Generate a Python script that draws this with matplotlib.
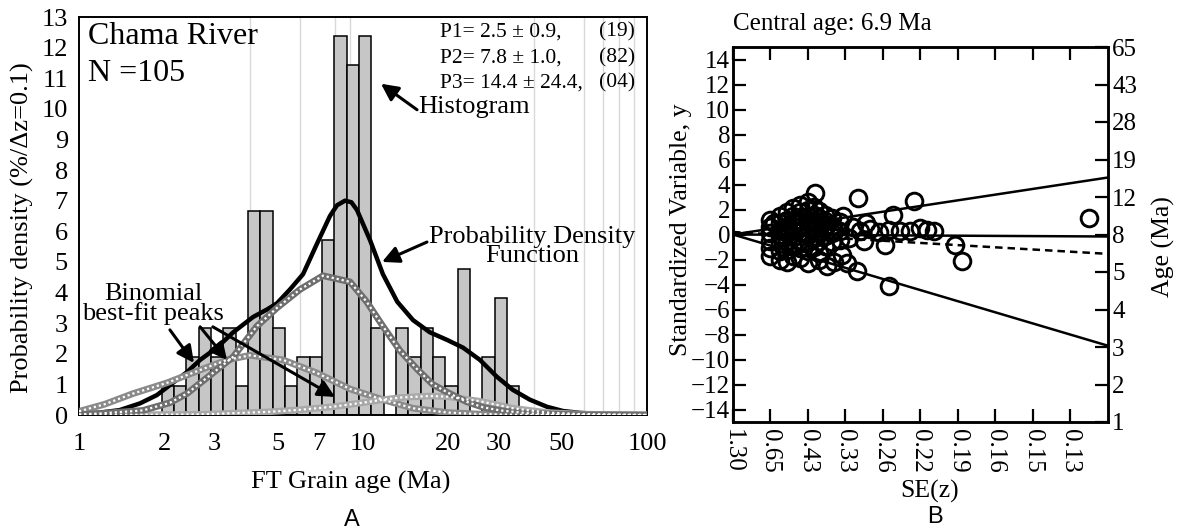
import numpy as np
import matplotlib.pyplot as plt
from matplotlib.ticker import FixedLocator, LogLocator, NullFormatter

plt.rcParams['font.family'] = ['Liberation Serif', 'DejaVu Serif']

# ---------------- panel A: grain-age histogram ----------------
n_grains = 105
first_edge = 0.67      # ln(age) of first bin edge
bin_width = 0.1        # bin width in ln(age)
counts = [1, 1, 2, 3, 2, 3, 1, 7, 7, 3, 1, 2, 2, 6, 13, 12, 13, 3, 0, 3,
          2, 3, 2, 1, 5, 0, 2, 4, 1]

# probability density function
pdf_age = [1.0, 1.19, 1.39, 1.64, 1.88, 2.14, 2.40, 2.67, 3.06, 3.49, 4.10,
           4.6, 4.98, 5.53, 6.15, 6.89, 7.65, 8.1, 8.64, 9.1, 9.52, 10.6, 11.75,
           13.2, 15.0, 17.2, 19.8, 22.5, 25.8, 29.6, 33.7, 38.7, 44.4, 50.6,
           58.1, 68.3, 80.3, 100]
pdf_dens = [0.03, 0.08, 0.16, 0.38, 0.65, 1.05, 1.4, 1.8, 2.2, 2.7, 3.2,
            3.45, 3.65, 4.1, 4.6, 5.6, 6.5, 6.85, 7.0, 6.95, 6.7, 5.7, 4.6,
            3.7, 3.1, 2.7, 2.45, 2.2, 1.8, 1.25, 0.82, 0.5, 0.27, 0.13,
            0.07, 0.03, 0.01, 0.0]

# binomial best-fit peaks
p1_age = [1.0, 1.23, 1.55, 2.04, 2.67, 3.32, 4.0, 5.23, 6.89, 9.0, 11.75,
          15.0, 19.8, 25.8, 38.7, 100]
p1_dens = [0.12, 0.35, 0.7, 1.05, 1.47, 1.8, 1.95, 1.8, 1.37, 0.85, 0.5,
           0.22, 0.08, 0.03, 0.0, 0.0]
p2_age = [1.0, 1.19, 1.68, 2.09, 2.40, 2.96, 3.49, 4.23, 4.98, 6.0, 7.23,
          9.0, 10.3, 11.75, 13.5, 15.5, 17.6, 20.2, 23.2, 26.5, 30.4, 38.7,
          58.1, 100]
p2_dens = [0.02, 0.05, 0.15, 0.4, 0.7, 1.37, 1.9, 2.9, 3.5, 4.1, 4.55,
           4.35, 3.7, 2.9, 2.1, 1.5, 1.0, 0.7, 0.43, 0.25, 0.15, 0.05,
           0.01, 0.0]
p3_age = [1.0, 2.67, 4.59, 6.0, 7.84, 10.3, 11.75, 13.5, 17.2, 19.8, 25.8,
          33.7, 44.4, 58.1, 100]
p3_dens = [0.0, 0.02, 0.1, 0.17, 0.27, 0.42, 0.5, 0.57, 0.62, 0.6, 0.45,
           0.22, 0.08, 0.03, 0.0]

peak_text = ['P1= 2.5 \u00b1 0.9,', 'P2= 7.8 \u00b1 1.0,', 'P3= 14.4 \u00b1 24.4,']
peak_n = ['(19)', '(82)', '(04)']
age_ticks = [1, 2, 3, 5, 7, 10, 20, 30, 50, 100]

# ---------------- panel B: radial plot ----------------
rp_x = [3.33, 4.82, 4.27, 9.5, 4.05, 5.92, 6.12, 4.15, 3.3, 3.04, 2.93, 2.19, 2.0,
        3.4, 3.65, 3.9, 4.15, 4.45, 4.72, 4.98, 5.17, 5.35, 3.55, 3.2, 3.1, 3.5,
        1.0, 1.0, 1.0, 1.0, 1.0, 1.0,
        1.25, 1.25, 1.25, 1.25, 1.25, 1.25, 1.25,
        1.45, 1.45, 1.45, 1.45, 1.45, 1.45, 1.45,
        1.6, 1.6, 1.6, 1.6, 1.6, 1.6, 1.6,
        1.8, 1.8, 1.8, 1.8, 1.8, 1.8, 1.8, 1.8,
        2.0, 2.0, 2.0, 2.0, 2.0, 2.0, 2.0, 2.0,
        2.15, 2.15, 2.15, 2.15, 2.15, 2.15,
        2.3, 2.3, 2.3, 2.3, 2.3, 2.3,
        2.45, 2.45, 2.45, 2.45, 2.45,
        2.65, 2.65, 2.65, 2.65,
        2.85, 2.85, 2.85,
        2.5, 2.7, 2.9, 2.3, 1.5, 1.1, 1.3, 2.1, 2.5, 1.7, 1.9, 2.7]
rp_y = [2.96, 2.65, 1.6, 1.3, -0.85, -0.8, -2.1, -4.1, -2.9, -2.3, 1.5, 3.3, 2.6,
        0.3, 0.45, 0.2, 0.35, 0.25, 0.3, 0.55, 0.35, 0.25, 0.9, 0.6, -0.3, -0.5,
        1.2, 0.6, 0.1, -0.5, -1.1, -1.7,
        1.5, 0.9, 0.4, -0.1, -0.7, -1.3, -2.0,
        1.8, 1.2, 0.6, 0.1, -0.5, -1.2, -2.2,
        2.1, 1.5, 1.0, 0.4, -0.2, -0.9, -1.7,
        2.4, 1.8, 1.2, 0.7, 0.2, -0.4, -1.1, -1.9,
        2.0, 1.5, 1.0, 0.5, 0.0, -0.6, -1.3, -2.3,
        2.2, 1.6, 1.0, 0.4, -0.3, -1.0,
        1.9, 1.3, 0.7, 0.2, -0.5, -1.5,
        1.6, 1.1, 0.5, -0.1, -0.9,
        1.3, 0.7, 0.1, -0.6,
        1.0, 0.3, -0.4,
        -2.5, -2.2, -1.6, -2.0, 0.3, 0.9, -0.2, 0.6, 0.8, 1.2, -0.7, 0.4]

se_labels = ['1.30', '0.65', '0.43', '0.33', '0.26', '0.22', '0.19', '0.16', '0.15', '0.13']
age_right = ['65', '43', '28', '19', '12', '8', '5', '4', '3', '2', '1']
std_ticks = list(range(-14, 15, 2))
# radial lines: (end y at the right edge), from the origin
line_ends = [4.56, -0.16, -8.9]
dash_line = [(0.0, 0.2), (10.0, -1.55)]

fig = plt.figure(figsize=(11.77, 5.30), dpi=100)

# ======================= panel A =======================
ax = fig.add_axes([79/1177, 1-415/530, 568/1177, 398/530])
ax.set_xscale('log')
edges = np.exp(first_edge + bin_width*np.arange(len(counts)+1))
heights = np.array(counts)*100.0/n_grains
ax.bar(edges[:-1], heights, width=edges[1:]-edges[:-1], align='edge',
       color='#c6c6c6', edgecolor='black', linewidth=1.1, zorder=2)

ax.plot(pdf_age, pdf_dens, color='black', lw=3.2, zorder=3, solid_capstyle='round')
for a_, d_, c_ in [(p1_age, p1_dens, '#8a8a8a'), (p3_age, p3_dens, '#a8a8a8'),
                   (p2_age, p2_dens, '#6e6e6e')]:
    ax.plot(a_, d_, color=c_, lw=4.8, zorder=4)
    ax.plot(a_, d_, color='white', lw=1.6, ls=(0, (1.0, 1.3)), zorder=5)

ax.set_xlim(1, 100)
ax.set_ylim(0, 13)
ax.xaxis.set_major_locator(FixedLocator(age_ticks))
ax.set_xticklabels([str(t) for t in age_ticks])
ax.xaxis.set_minor_locator(LogLocator(base=10, subs=np.arange(1, 10)))
ax.xaxis.set_minor_formatter(NullFormatter())
ax.set_yticks(range(0, 14))
ax.grid(which='minor', axis='x', color='#d9d9d9', lw=1.0, zorder=0)
ax.set_axisbelow(True)
ax.tick_params(which='both', length=0)
ax.tick_params(axis='x', labelsize=19, pad=13)
ax.tick_params(axis='y', labelsize=19, pad=8)
for s in ax.spines.values():
    s.set_linewidth(1.4)

ax.text(0.016, 0.95, 'Chama River', transform=ax.transAxes, fontsize=23,
        ha='left', va='center')
ax.text(0.016, 0.859, 'N =105', transform=ax.transAxes, fontsize=23,
        ha='left', va='center')
for i, (t, n) in enumerate(zip(peak_text, peak_n)):
    yy = [0.962, 0.897, 0.834][i]
    ax.text(0.636, yy, t, transform=ax.transAxes, fontsize=15.5, ha='left', va='center')
    ax.text(0.979, yy, n, transform=ax.transAxes, fontsize=15.5, ha='right', va='center')

arrow = dict(arrowstyle='-|>,head_length=0.6,head_width=0.3', lw=2.2,
             color='black', shrinkA=0, shrinkB=0, mutation_scale=17)
ax.text(15.6, 10.05, 'Histogram', fontsize=19, ha='left', va='center', zorder=6)
ax.annotate('', xy=(11.57, 10.82), xytext=(15.5, 9.97), arrowprops=arrow, zorder=6)
ax.text(39.4, 5.5, 'Probability Density\nFunction', fontsize=19, ha='center',
        va='center', linespacing=0.8, zorder=6)
ax.annotate('', xy=(11.67, 5.0), xytext=(16.8, 5.65), arrowprops=arrow, zorder=6)
ax.text(1.82, 3.62, 'Binomial\nbest-fit peaks', fontsize=19, ha='center',
        va='center', linespacing=0.8, zorder=6)
ax.annotate('', xy=(2.54, 1.70), xytext=(2.09, 2.78), arrowprops=arrow, zorder=6)
ax.annotate('', xy=(3.32, 1.80), xytext=(2.67, 2.88), arrowprops=arrow, zorder=6)
ax.annotate('', xy=(7.97, 0.59), xytext=(2.96, 2.88), arrowprops=arrow, zorder=6)

fig.text(22/1177, 1-228/530, 'Probability density (%/\u0394z=0.1)', rotation=90,
         fontsize=19, ha='center', va='center')
fig.text(351/1177, 1-482/530, 'FT Grain age (Ma)', fontsize=19, ha='center', va='center')
fig.text(352/1177, 1-520/530, 'A', fontsize=17, family='Liberation Sans',
         ha='center', va='center')

# ======================= panel B =======================
bx = fig.add_axes([733/1177, 1-422/530, 375/1177, 375/530])
bx.set_xlim(0, 10)
bx.set_ylim(-15, 15)
for yend in line_ends:
    bx.plot([0, 10], [0, yend], color='black', lw=1.8, zorder=2)
bx.plot([p[0] for p in dash_line], [p[1] for p in dash_line], color='black',
        lw=1.8, ls=(0, (3, 2)), zorder=2)
bx.plot(rp_x, rp_y, ls='none', marker='o', ms=12, mfc='none', mec='black',
        mew=2.1, zorder=3)

bx.set_xticks(range(len(se_labels)))
bx.set_xticklabels(se_labels, rotation=270)
bx.set_yticks(std_ticks)
bx.tick_params(axis='both', direction='in', length=9.5, width=1.6, labelsize=18)
bx.tick_params(axis='x', top=True, pad=5)
bx.tick_params(axis='y', pad=2)
for s in bx.spines.values():
    s.set_linewidth(1.8)

bx2 = bx.twinx()
bx2.set_ylim(-15, 15)
bx2.set_yticks(range(15, -16, -3))
bx2.set_yticklabels(age_right)
bx2.tick_params(axis='y', direction='in', length=9.5, width=1.6, labelsize=18, pad=3)
for s in bx2.spines.values():
    s.set_linewidth(1.8)

fig.text(733/1177, 1-24/530, 'Central age: 6.9 Ma', fontsize=18, ha='left', va='center')
fig.text(681/1177, 1-230/530, 'Standardized Variable, y', rotation=90, fontsize=18.5,
         ha='center', va='center')
fig.text(1163/1177, 1-247/530, 'Age (Ma)', rotation=90, fontsize=18.5,
         ha='center', va='center')
fig.text(930/1177, 1-491/530, 'SE(z)', fontsize=18.5, ha='center', va='center')
fig.text(935/1177, 1-517/530, 'B', fontsize=17, family='Liberation Sans',
         ha='center', va='center')

fig.savefig('out.png', dpi=100)
